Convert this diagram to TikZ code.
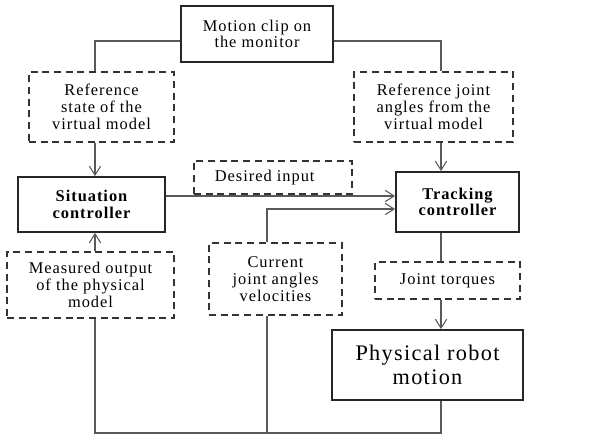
\documentclass[tikz,border=0pt]{standalone}
\usepackage{fontspec}
\setmainfont{Liberation Serif}[LetterSpace=6]
\usetikzlibrary{arrows.meta}

\begin{document}
\begin{tikzpicture}[x=0.03cm, y=-0.03cm,
  txt/.style={align=center, inner sep=0pt, font=\fontsize{14pt}{14.3pt}\selectfont},
  solidbox/.style={txt, draw=black!85, line width=1.5pt},
  dashbox/.style={txt, draw=black!80, line width=1.3pt, dash pattern=on 6pt off 4pt},
  link/.style={draw=black!65, line width=0.9pt},
  tip/.style={link, -{Straight Barb[length=0.27cm, width=0.34cm, line width=0.9pt]}}]

\useasboundingbox (0,0) rectangle (593,434);

% columns and rows of the connectors
\coordinate (lcol) at (95,0);
\coordinate (mcol) at (267,0);
\coordinate (rcol) at (441,0);
\coordinate (dinrow) at (0,196);
\coordinate (fbrow) at (0,209);
\coordinate (base) at (0,433);

\node[solidbox, minimum width=4.56cm, minimum height=1.68cm] (clip) at (257,34) {Motion clip on\\the monitor};

\node[dashbox, minimum width=4.35cm, minimum height=2.1cm] (refstate) at (101.5,107) {Reference\\state of the\\virtual model};
\node[dashbox, minimum width=4.77cm, minimum height=2.1cm] (refjoint) at (433.5,107) {Reference joint\\angles from the\\virtual model};

\node[solidbox, minimum width=4.41cm, minimum height=1.65cm] (situation) at (91.5,204.5) {\bfseries Situation\\\bfseries controller};
\node[dashbox, minimum width=4.74cm, minimum height=0.99cm] (desired) at (273,177.5) {Desired input\hspace{0.5cm}};
\node[solidbox, minimum width=3.69cm, minimum height=1.8cm] (tracking) at (457.5,202) {\bfseries Tracking\\\bfseries controller};

\node[dashbox, minimum width=5.01cm, minimum height=1.98cm] (measured) at (90.5,285) {Measured output\\of the physical\\model};
\node[dashbox, minimum width=3.99cm, minimum height=2.16cm] (current) at (275.5,279) {Current\\joint angles\\velocities};
\node[dashbox, minimum width=4.35cm, minimum height=1.11cm] (torques) at (447.5,280.5) {Joint torques};

\node[solidbox, minimum width=5.73cm, minimum height=2.1cm, font=\fontsize{19pt}{21pt}\selectfont] (physical) at (427.5,365) {Physical robot\\motion};

% from the monitor
\draw[link] ([yshift=-0.21cm]clip.west) -| (lcol |- refstate.north);
\draw[link] ([yshift=-0.21cm]clip.east) -| (rcol |- refjoint.north);
\draw[tip] (lcol |- refstate.south) -- (lcol |- situation.north);
\draw[tip] (rcol |- refjoint.south) -- (rcol |- tracking.north);

% controllers
\draw[tip] (situation.east |- dinrow) -- (tracking.west |- dinrow);
\draw[tip] (mcol |- current.north) -- (mcol |- fbrow) -- (tracking.west |- fbrow);
\draw[link] (rcol |- tracking.south) -- (rcol |- torques.north);
\draw[tip] (rcol |- torques.south) -- (rcol |- physical.north);
\draw[tip] (lcol |- measured.north) -- (lcol |- situation.south);

% feedback
\draw[link] (rcol |- physical.south) -- (rcol |- base) -- (lcol |- base) -- (lcol |- measured.south);
\draw[link] (mcol |- base) -- (mcol |- current.south);

\end{tikzpicture}
\end{document}
